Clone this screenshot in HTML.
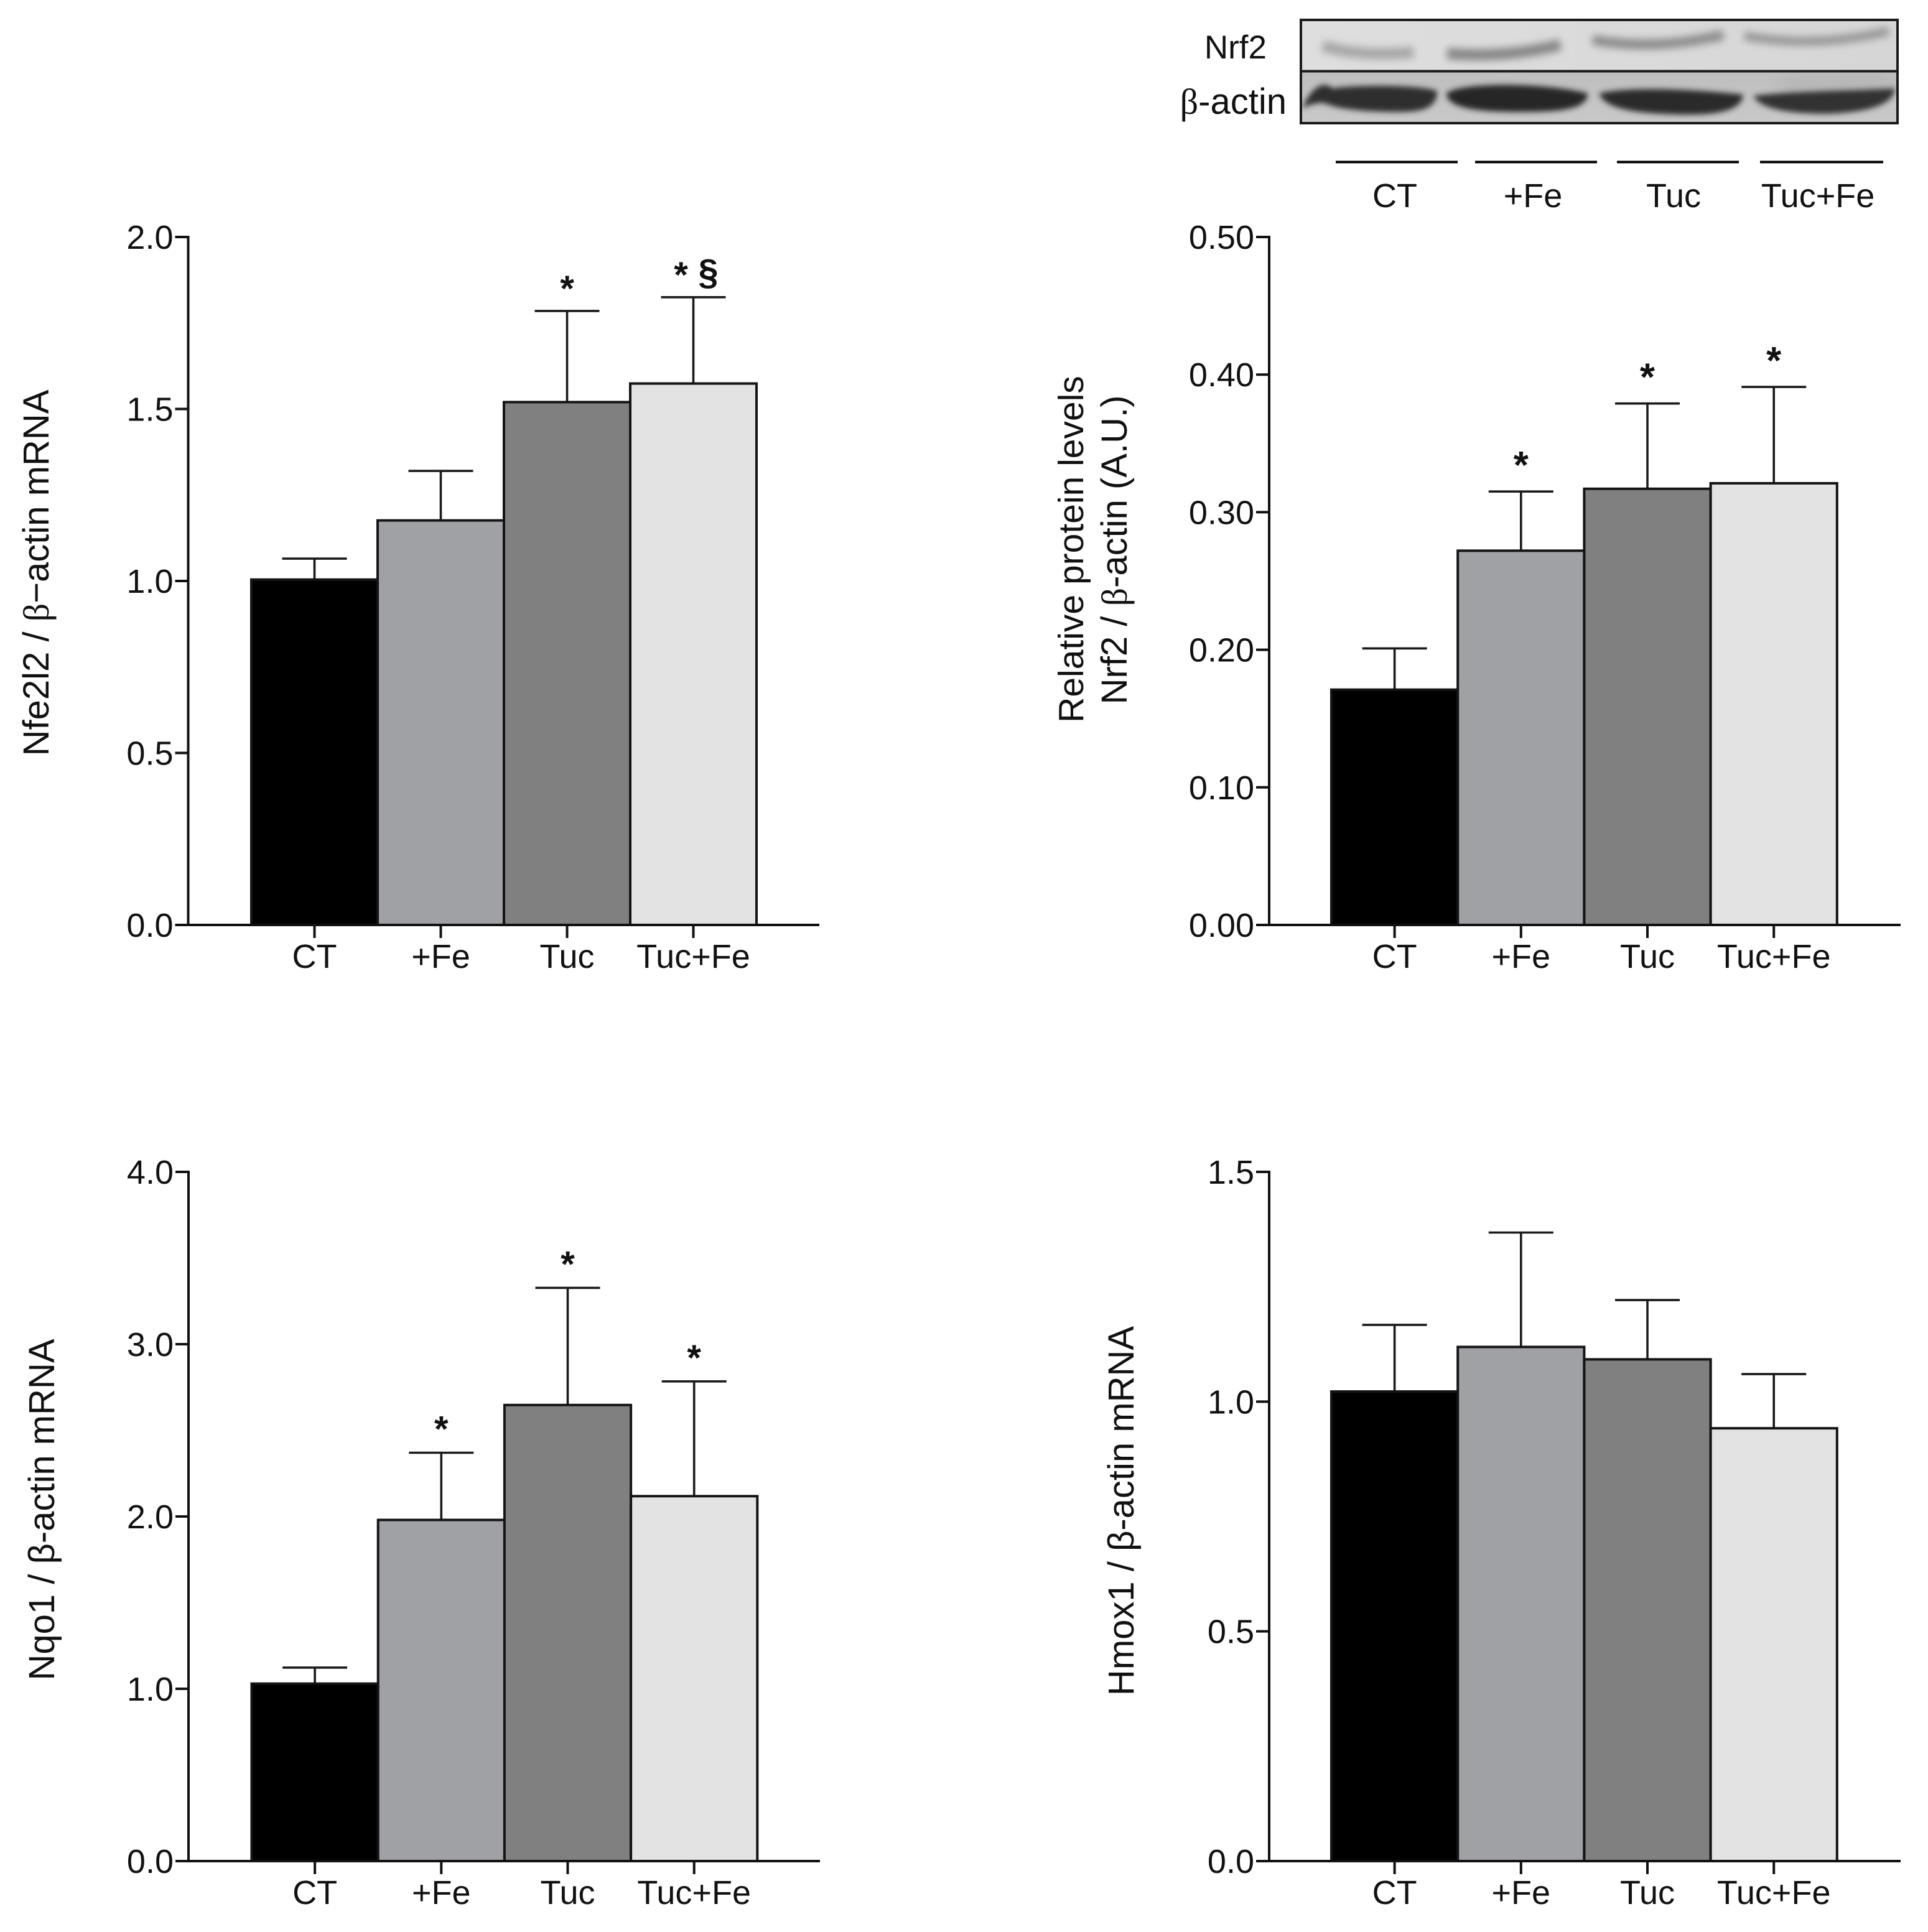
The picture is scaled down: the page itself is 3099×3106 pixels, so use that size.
<!DOCTYPE html>
<html lang="en">
<head>
<meta charset="utf-8">
<title>Nrf2 pathway expression bar charts</title>
<style>
html,body{margin:0;padding:0;background:#fff;}
svg{display:block;}
text{font-family:"Liberation Sans",sans-serif;fill:#111;}
.beta{font-family:"Liberation Serif",serif;}
</style>
</head>
<body>
<svg id="figure" xmlns="http://www.w3.org/2000/svg" width="3099" height="3106" viewBox="0 0 3099 3106">
  <defs>
    <filter id="blur-soft" x="-20%" y="-200%" width="140%" height="500%"><feGaussianBlur stdDeviation="6"/></filter>
    <filter id="blur-band" x="-20%" y="-60%" width="140%" height="220%"><feGaussianBlur stdDeviation="4.5"/></filter>
    <filter id="blur-haze" x="-30%" y="-100%" width="160%" height="300%"><feGaussianBlur stdDeviation="14"/></filter>
    <linearGradient id="nrf2-bg" x1="0" x2="1" y1="0" y2="0">
      <stop offset="0" stop-color="#dedede"/><stop offset="0.3" stop-color="#dcdcdc"/><stop offset="1" stop-color="#d6d6d6"/>
    </linearGradient>
    <linearGradient id="actin-bg" x1="0" x2="0" y1="0" y2="1">
      <stop offset="0" stop-color="#bebebe"/><stop offset="1" stop-color="#c9c9c9"/>
    </linearGradient>
    <clipPath id="clip-nrf2"><rect x="2091" y="32" width="959" height="82"/></clipPath>
    <clipPath id="clip-actin"><rect x="2091" y="114" width="959" height="84"/></clipPath>
  </defs>

  <g>
    <g clip-path="url(#clip-nrf2)">
      <rect x="2091" y="32" width="959" height="82" fill="url(#nrf2-bg)"/>
      <path d="M2126 74 Q2190 92 2272 84" fill="none" stroke="#a6a6a6" stroke-width="18" filter="url(#blur-soft)"/>
      <path d="M2326 86 Q2420 94 2508 72" fill="none" stroke="#858585" stroke-width="18" filter="url(#blur-soft)"/>
      <path d="M2560 64 Q2660 82 2770 56" fill="none" stroke="#8a8a8a" stroke-width="16" filter="url(#blur-soft)"/>
      <path d="M2804 58 Q2920 78 3036 50" fill="none" stroke="#949494" stroke-width="14" filter="url(#blur-soft)"/>
    </g>
    <g clip-path="url(#clip-actin)">
      <rect x="2091" y="114" width="959" height="84" fill="url(#actin-bg)"/>
      <path d="M2860 125 L3040 125 L3040 148 L2860 148 Z" fill="#b2b2b2" filter="url(#blur-haze)"/>
      <path d="M2094 172 C2104 148 2124 126 2142 142 C2180 136 2280 136 2310 146 C2310 172 2290 180 2250 180 C2200 180 2150 176 2130 166 C2118 164 2106 168 2094 174 Z" fill="#2e2e2e" filter="url(#blur-band)"/>
      <path d="M2325 150 C2345 132 2480 132 2552 150 C2552 178 2500 180 2440 180 C2380 180 2325 175 2325 150 Z" fill="#282828" filter="url(#blur-band)"/>
      <path d="M2570 150 C2620 138 2730 144 2802 152 C2800 178 2760 186 2695 184 C2630 182 2580 176 2570 150 Z" fill="#2b2b2b" filter="url(#blur-band)"/>
      <path d="M2818 154 C2880 146 2980 146 3046 142 C3044 172 2990 182 2930 183 C2875 182 2830 176 2818 154 Z" fill="#303030" filter="url(#blur-band)"/>
    </g>
    <rect x="2091" y="32" width="959" height="166" fill="none" stroke="#1a1a1a" stroke-width="4"/>
    <line x1="2091" x2="3050" y1="114.5" y2="114.5" stroke="#1a1a1a" stroke-width="4"/>
    <text x="2036" y="94" font-size="53" text-anchor="end">Nrf2</text>
    <text x="2068" y="183" font-size="58" text-anchor="end"><tspan class="beta">β</tspan>-actin</text>
    <line x1="2147" x2="2343" y1="260.5" y2="260.5" stroke="#000" stroke-width="4"/>
    <line x1="2371" x2="2567" y1="260.5" y2="260.5" stroke="#000" stroke-width="4"/>
    <line x1="2599" x2="2795" y1="260.5" y2="260.5" stroke="#000" stroke-width="4"/>
    <line x1="2829" x2="3027" y1="260.5" y2="260.5" stroke="#000" stroke-width="4"/>
    <text x="2242" y="333" font-size="54" text-anchor="middle">CT</text>
    <text x="2464" y="333" font-size="54" text-anchor="middle">+Fe</text>
    <text x="2690" y="333" font-size="54" text-anchor="middle">Tuc</text>
    <text x="2922" y="333" font-size="54" text-anchor="middle">Tuc+Fe</text>
  </g>

  <g><text transform="translate(78 921) rotate(-90)" font-size="58" text-anchor="middle">Nfe2l2 / <tspan class="beta">β</tspan>−actin mRNA</text></g>
  <g>
    <text transform="translate(1741 883) rotate(-90)" font-size="57" text-anchor="middle">Relative protein levels</text>
    <text transform="translate(1811 884) rotate(-90)" font-size="58" text-anchor="middle">Nrf2 / <tspan class="beta">β</tspan>-actin (A.U.)</text>
  </g>
  <g><text transform="translate(87 2427) rotate(-90)" font-size="58" text-anchor="middle">Nqo1 / β-actin mRNA</text></g>
  <g><text transform="translate(1822 2429) rotate(-90)" font-size="58" text-anchor="middle">Hmox1 / β-actin mRNA</text></g>
</svg>

<script>
const categories = ["CT", "+Fe", "Tuc", "Tuc+Fe"];
const barFills = ["#000000", "#a0a1a5", "#808080", "#e3e3e3"];

const nfeValues = [1.004, 1.176, 1.52, 1.574];
const nfeErrorTops = [1.065, 1.32, 1.785, 1.825];
const nfeTicks = ["0.0", "0.5", "1.0", "1.5", "2.0"];
const nfeMarks = ["", "", "*", "* §"];

const nrfValues = [0.171, 0.272, 0.317, 0.321];
const nrfErrorTops = [0.201, 0.315, 0.379, 0.391];
const nrfTicks = ["0.00", "0.10", "0.20", "0.30", "0.40", "0.50"];
const nrfMarks = ["", "*", "*", "*"];

const nqoValues = [1.03, 1.98, 2.647, 2.118];
const nqoErrorTops = [1.123, 2.37, 3.327, 2.784];
const nqoTicks = ["0.0", "1.0", "2.0", "3.0", "4.0"];
const nqoMarks = ["", "*", "*", "*"];

const hmoxValues = [1.022, 1.119, 1.092, 0.942];
const hmoxErrorTops = [1.167, 1.368, 1.221, 1.06];
const hmoxTicks = ["0.0", "0.5", "1.0", "1.5"];
const hmoxMarks = ["", "", "", ""];

const NS = "http://www.w3.org/2000/svg";
const root = document.getElementById("figure");

function make(tag, attrs, parent, txt) {
  const el = document.createElementNS(NS, tag);
  for (const k in attrs) el.setAttribute(k, attrs[k]);
  if (txt !== undefined) el.textContent = txt;
  parent.appendChild(el);
  return el;
}

function drawPanel(p) {
  const g = make("g", {}, root);
  
  

  const yMax = parseFloat(p.ticks[p.ticks.length - 1]);
  const yScale = v => p.y0 + (p.yTop - p.y0) * v / yMax;
  const barW = p.step;
  const xCenter = i => p.barLeft + barW * (i + 0.5);

  // error bars
  p.values.forEach((v, i) => {
    const eg = make("g", {}, g);
    
    
    const top = yScale(p.errors[i]);
    make("line", {x1: xCenter(i), x2: xCenter(i), y1: yScale(v), y2: top, stroke: "#1a1a1a", "stroke-width": 3.6}, eg);
    make("line", {x1: xCenter(i) - 52, x2: xCenter(i) + 52, y1: top, y2: top, stroke: "#1a1a1a", "stroke-width": 3.6}, eg);
  });

  // bars
  p.values.forEach((v, i) => {
    const r = make("rect", {
      x: p.barLeft + barW * i, y: yScale(v), width: barW, height: p.y0 - yScale(v),
      fill: barFills[i], stroke: "#141414", "stroke-width": 4
    }, g);
    
    
  });

  // significance marks: each symbol is placed around the bar centre
  p.marks.forEach((m, i) => {
    if (!m) return;
    const parts = m.split(" ");
    const centreY = yScale(p.errors[i]) - p.markGap;
    parts.forEach((part, k) => {
      const isStar = part === "*";
      const size = isStar ? p.markSize : 58;
      const dx = parts.length > 1 ? (k === 0 ? -20 : 24) : 0;
      const t = make("text", {
        x: xCenter(i) + dx, y: centreY + (isStar ? 0.40 : 0.32) * size,
        "font-size": size, "font-weight": "bold", "text-anchor": "middle"
      }, g, part);
      
      
    });
  });

  // y axis
  const yAxis = make("g", {}, g);
  
  
  make("line", {x1: p.axisX, x2: p.axisX, y1: p.yTop - 2, y2: p.y0 + 2, stroke: "#111", "stroke-width": 4}, yAxis);
  p.ticks.forEach(t => {
    const y = yScale(parseFloat(t));
    make("line", {x1: p.axisX - 21, x2: p.axisX, y1: y, y2: y, stroke: "#111", "stroke-width": 4}, yAxis);
    const lab = make("text", {x: p.axisX - 24, y: y + 19, "font-size": 54, "text-anchor": "end"}, yAxis, t);
    
    
  });

  // x axis
  const xAxis = make("g", {}, g);
  
  
  make("line", {x1: p.axisX - 2, x2: p.axisEnd, y1: p.y0, y2: p.y0, stroke: "#111", "stroke-width": 4}, xAxis);
  categories.forEach((c, i) => {
    make("line", {x1: xCenter(i), x2: xCenter(i), y1: p.y0, y2: p.y0 + 21, stroke: "#111", "stroke-width": 4}, xAxis);
    const lab = make("text", {x: xCenter(i), y: p.y0 + 69, "font-size": 54, "text-anchor": "middle"}, xAxis, c);
    
    
  });
}

drawPanel({name: "nfe2l2", values: nfeValues, errors: nfeErrorTops, ticks: nfeTicks, marks: nfeMarks,
  axisX: 302.5, axisEnd: 1317, barLeft: 404, step: 203, y0: 1487, yTop: 381, markSize: 58, markGap: 39});
drawPanel({name: "nrf2", values: nrfValues, errors: nrfErrorTops, ticks: nrfTicks, marks: nrfMarks,
  axisX: 2040, axisEnd: 3055, barLeft: 2140, step: 203.2, y0: 1487, yTop: 381, markSize: 62, markGap: 46});
drawPanel({name: "nqo1", values: nqoValues, errors: nqoErrorTops, ticks: nqoTicks, marks: nqoMarks,
  axisX: 303, axisEnd: 1318, barLeft: 404.5, step: 203.2, y0: 2992, yTop: 1884, markSize: 58, markGap: 41});
drawPanel({name: "hmox1", values: hmoxValues, errors: hmoxErrorTops, ticks: hmoxTicks, marks: hmoxMarks,
  axisX: 2040, axisEnd: 3055, barLeft: 2140, step: 203.2, y0: 2992, yTop: 1884, markSize: 58, markGap: 41});
</script>
</body>
</html>
